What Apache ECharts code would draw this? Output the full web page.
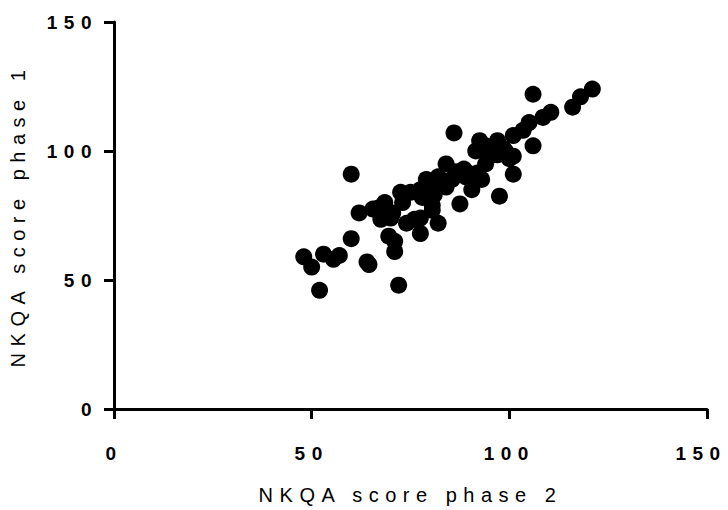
<!DOCTYPE html>
<html>
<head>
<meta charset="utf-8">
<script src="https://cdn.jsdelivr.net/npm/echarts@6/dist/echarts.min.js"></script>
<style>
  html, body { margin: 0; padding: 0; background: #fff; }
  #chart { width: 728px; height: 510px; }
  #chart text[style*="19px"] { letter-spacing: 6.5px; }
  #chart text[style*="20px"] { letter-spacing: 6.5px; }
</style>
</head>
<body>
<div id="chart"></div>
<script>
// NKQA score phase 2 (x) vs phase 1 (y)
const phase2 = [48, 50, 52, 53, 55.5, 57, 60, 60, 64, 64.5, 72, 62, 65.5, 67, 68.5, 67.5, 70, 70.5, 69.5, 71,
  71, 72.5, 73, 76, 77.5, 77.5, 77.5, 79, 80, 80.5, 81, 80.5, 82, 82, 83, 84, 85.5, 86, 86.5, 87.5,
  88.5, 89.5, 90.5, 91, 91.5, 92, 92.5, 93, 94, 95, 95.5, 97, 97, 97.5, 98.5, 100, 101, 101, 101, 103.5,
  105, 106, 106, 108.5, 110.5, 116, 118, 121, 75, 74, 84, 89, 78, 94, 99];
const phase1 = [59, 55, 46, 60, 58, 59.5, 66, 91, 57, 56, 48, 76, 77.5, 78, 80, 73.5, 74, 76, 67, 65,
  61, 84, 80, 73.5, 68, 74, 85, 89, 87, 79, 83, 77, 72, 90, 88, 95, 89, 107, 92, 79.5,
  93, 91.5, 85, 88, 100, 91.5, 104, 89, 102, 98, 100, 104, 98.5, 82.5, 101, 97, 106, 98, 91, 108,
  111, 102, 122, 113, 115, 117, 121, 124, 84, 72, 86, 90, 82, 95, 100];
const xTicks = [0, 50, 100, 150];
const yTicks = [0, 50, 100, 150];

const points = phase2.map((x, i) => [x, phase1[i]]);

const chart = echarts.init(document.getElementById('chart'), null, { renderer: 'svg' });
const FONT = 'Liberation Sans, Arial, sans-serif';
const labelStyle = { color: '#000', fontWeight: 'bold', fontSize: 19, fontFamily: FONT };
const axisCommon = {
  type: 'value',
  min: xTicks[0],
  max: xTicks[xTicks.length - 1],
  interval: 50,
  splitLine: { show: false },
  axisLine: { show: true, onZero: false, lineStyle: { color: '#000', width: 3 } },
  axisTick: { show: true, inside: false, length: 10, lineStyle: { color: '#000', width: 3 } },
  axisLabel: labelStyle,
  nameLocation: 'middle',
  nameTextStyle: { color: '#000', fontSize: 20, fontFamily: FONT }
};
const xMax = xTicks[xTicks.length - 1];
chart.setOption({
  animation: false,
  backgroundColor: '#fff',
  grid: { left: 113, right: 21, top: 22, bottom: 94, containLabel: false },
  xAxis: Object.assign({}, axisCommon, {
    name: 'NKQA score phase 2',
    nameGap: 76,
    axisLabel: Object.assign({}, labelStyle, {
      margin: 35,
      formatter: v => v === xMax ? '{m|' + v + '}' : String(v),
      rich: { m: Object.assign({}, labelStyle, { padding: [0, 12, 0, 0] }) }
    })
  }),
  yAxis: Object.assign({}, axisCommon, {
    min: yTicks[0],
    max: yTicks[yTicks.length - 1],
    name: 'NKQA score phase 1',
    nameGap: 86,
    axisLabel: Object.assign({}, labelStyle, { margin: 16 })
  }),
  series: [{
    type: 'scatter',
    data: points,
    symbol: 'circle',
    symbolSize: 17,
    itemStyle: { color: '#000', opacity: 1 }
  }]
});
</script>
</body>
</html>
